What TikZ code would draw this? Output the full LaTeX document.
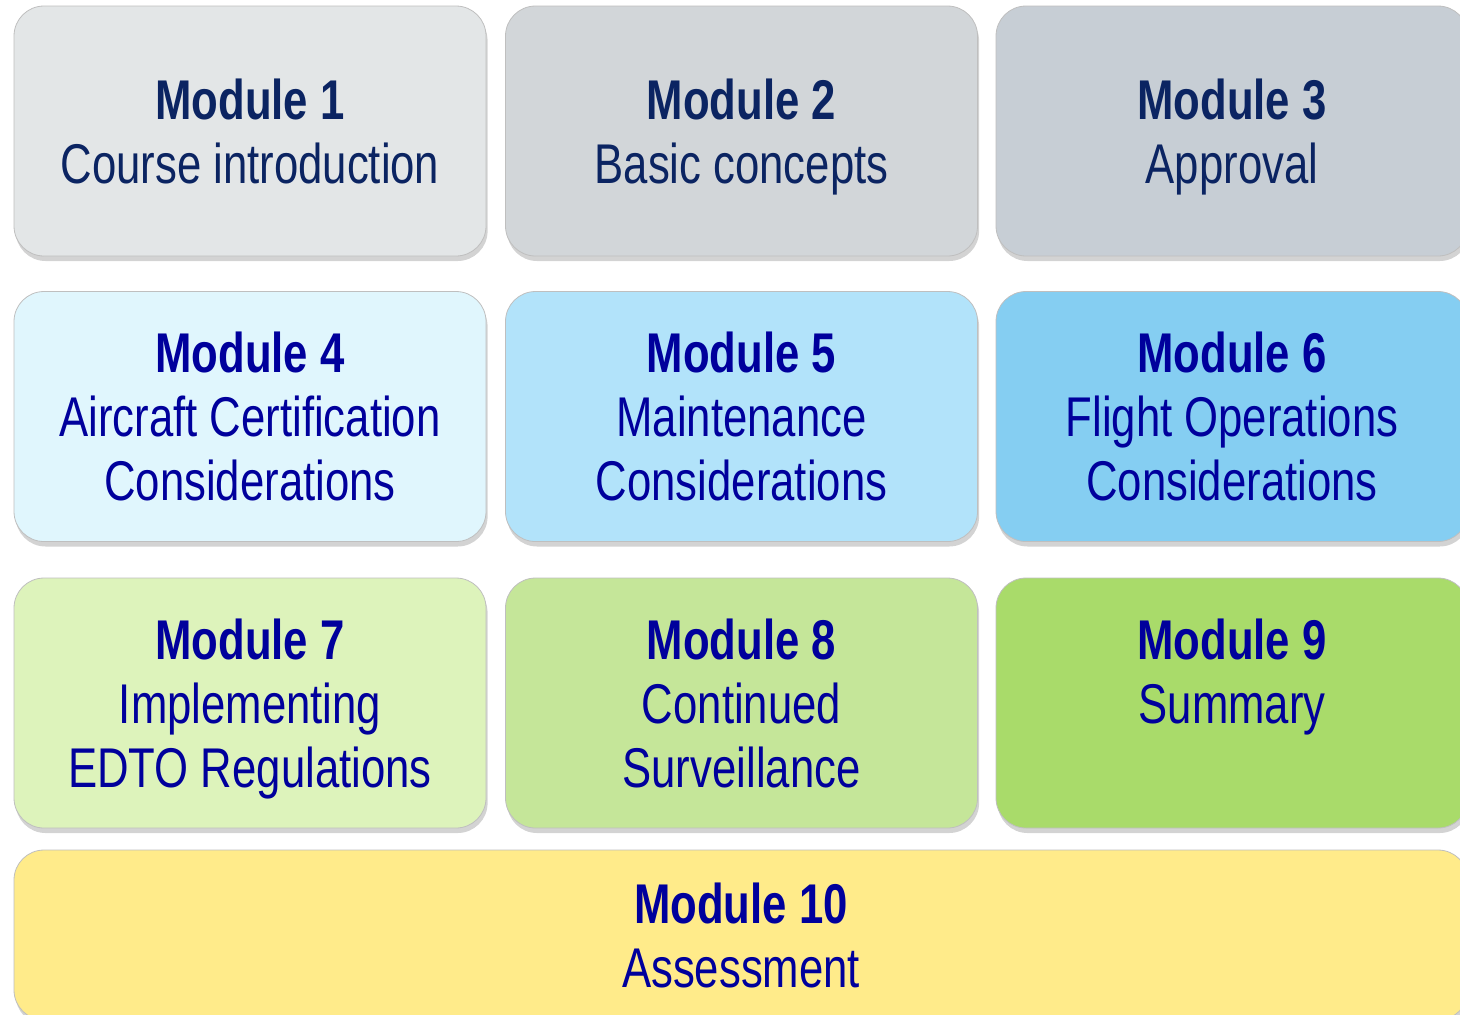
\documentclass[tikz,border=0pt]{standalone}
\usepackage{fontspec}
\setmainfont{Liberation Sans}[FakeStretch=0.78]
\usepackage{xcolor}
\usetikzlibrary{shadows}

\definecolor{navytext}{HTML}{0B2462}
\definecolor{bluetext}{HTML}{00009C}
\definecolor{greyA}{HTML}{E3E6E7}
\definecolor{greyB}{HTML}{D2D6D9}
\definecolor{greyC}{HTML}{C7CED5}
\definecolor{skyA}{HTML}{E0F6FD}
\definecolor{skyB}{HTML}{B2E3FA}
\definecolor{skyC}{HTML}{85CEF2}
\definecolor{leafA}{HTML}{DDF3BB}
\definecolor{leafB}{HTML}{C5E699}
\definecolor{leafC}{HTML}{A9DB6A}
\definecolor{sunA}{HTML}{FFEB8A}

% last line without depth, so descenders do not move the block
\newcommand{\flatline}[1]{\raisebox{0pt}[\height][0pt]{#1}}

\begin{document}
\begin{tikzpicture}[x=0.5pt,y=-0.5pt]
  \tikzset{module/.style = {shape=rectangle, rounded corners=15pt, draw=black!25, line width=0.4pt,
      minimum width=236pt, minimum height=125pt, align=center, inner sep=0pt,
      font=\fontsize{28}{32}\selectfont,
      drop shadow={opacity=0.35, shadow xshift=0.8pt, shadow yshift=-2.5pt}}}
  \tikzset{greymod/.style = {module, text=navytext}}
  \tikzset{bluemod/.style = {module, text=bluetext}}

  \useasboundingbox (0,0) rectangle (1460,1014);

  % row 1
  \node[greymod, fill=greyA] (M1) at (250,131) {\textbf{Module 1}\\Course introduction};
  \node[greymod, fill=greyB] (M2) at (741.5,131) {\textbf{Module 2}\\\flatline{Basic concepts}};
  \node[greymod, fill=greyC] (M3) at (1232,131) {\textbf{Module 3}\\\flatline{Approval}};

  % row 2
  \node[bluemod, fill=skyA] (M4) at (250,416.5) {\textbf{Module 4}\\Aircraft Certification\\Considerations};
  \node[bluemod, fill=skyB] (M5) at (741.5,416.5) {\textbf{Module 5}\\Maintenance\\Considerations};
  \node[bluemod, fill=skyC] (M6) at (1232,416.5) {\textbf{Module 6}\\Flight Operations\\Considerations};

  % row 3
  \node[bluemod, fill=leafA] (M7) at (250,703) {\textbf{Module 7}\\Implementing\\\flatline{EDTO Regulations}};
  \node[bluemod, fill=leafB] (M8) at (741.5,703) {\textbf{Module 8}\\Continued\\Surveillance};
  \node[bluemod, fill=leafC] (M9) at (1232,703) {\textbf{Module 9}\\Summary\\\mbox{}};

  % assessment
  \node[bluemod, fill=sunA, minimum width=727pt, minimum height=85pt] (M10) at (741,935) {\textbf{Module 10}\\Assessment};

\end{tikzpicture}
\end{document}
